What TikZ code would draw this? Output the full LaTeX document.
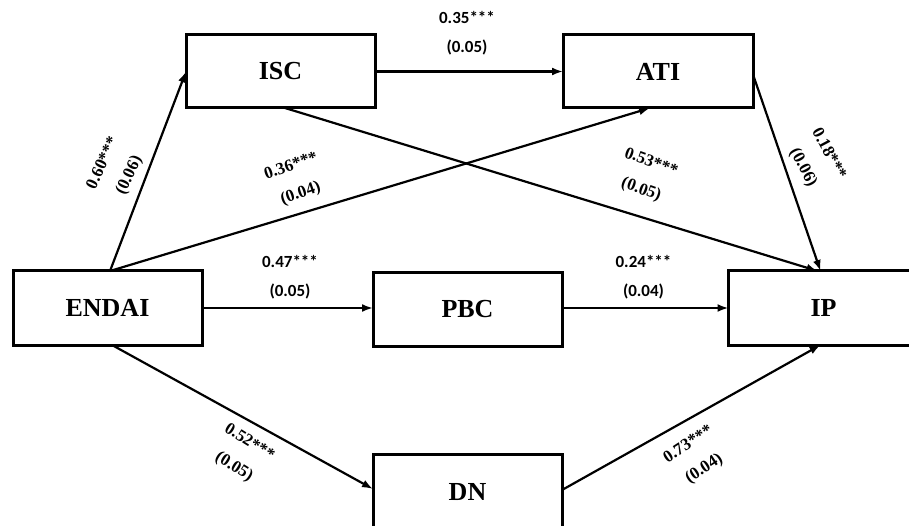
\documentclass[tikz,border=0pt]{standalone}
\usepackage{fontspec}
\setmainfont{Liberation Serif}
\newfontfamily\lblfont{Carlito}
\usetikzlibrary{arrows.meta,calc}
\begin{document}
\begin{tikzpicture}[x=1pt,y=-1pt,
  box/.style={draw,line width=3pt,minimum width=189pt,minimum height=73pt,inner sep=0pt,outer sep=0pt,
    font=\fontsize{26}{30}\selectfont\bfseries},
  arr/.style={line width=2.2pt,-{Latex[length=11pt,width=8pt]}},
  hl/.style={font=\lblfont\fontsize{17}{29}\selectfont\bfseries,inner sep=0pt,align=center},
  rl/.style={font=\fontsize{17}{29}\selectfont\bfseries,inner sep=0pt,align=center}]
\useasboundingbox (0,0) rectangle (909,526);
\clip (0,0) rectangle (909,526);
\node[box] (ISC) at (280.5,71.5) {ISC};
\node[box,minimum width=190pt] (ATI) at (658,71.5) {ATI};
\node[box,minimum height=74pt] (ENDAI) at (107.5,308) {ENDAI};
\node[box] (PBC) at (467.5,309.5) {PBC};
\node[box,minimum width=190pt,minimum height=74pt] (IP) at (823.5,308) {IP};
\node[box,minimum height=75pt] (DN) at (467.5,492) {DN};

\draw[arr] (ISC.east) -- (ATI.west);
\draw[arr] ($(ENDAI.north)+(2.5,0)$) -- (ISC.west);
\draw[arr] ($(ENDAI.north)+(2.5,0)$) -- ($(ATI.south)+(-8,0)$);
\draw[arr] ($(ISC.south)+(4.5,0)$) -- ($(IP.north)+(-6,0)$);
\draw[arr] ($(ATI.east)+(0,3)$) -- ($(IP.north)+(-3,0)$);
\draw[arr] (ENDAI.east) -- (ENDAI.east -| PBC.west);
\draw[arr] (PBC.east |- ENDAI.east) -- (IP.west);
\draw[arr] ($(ENDAI.south)+(4.5,0)$) -- ($(DN.west)+(0,-3)$);
\draw[arr] ($(DN.east)+(0,-2)$) -- ($(IP.south)+(-3,0)$);

\node[hl] (a) at (467,33) {0.35***\\(0.05)};
\node[hl] (b) at (290,277.5) {0.47***\\(0.05)};
\node[hl] (c) at (643.5,277.5) {0.24***\\(0.04)};

\node[rl,rotate=65] (d) at (116.5,169.5) {0.60***\\(0.06)};
\node[rl,rotate=19] (e) at (296,180.5) {0.36***\\(0.04)};
\node[rl,rotate=-20] (f) at (646,176.5) {0.53***\\(0.05)};
\node[rl,rotate=-62] (g) at (815.5,161) {0.18***\\(0.06)};
\node[rl,rotate=-32] (h) at (241.5,455) {0.52***\\(0.05)};
\node[rl,rotate=33] (i) at (696.5,457) {0.73***\\(0.04)};
\end{tikzpicture}
\end{document}
